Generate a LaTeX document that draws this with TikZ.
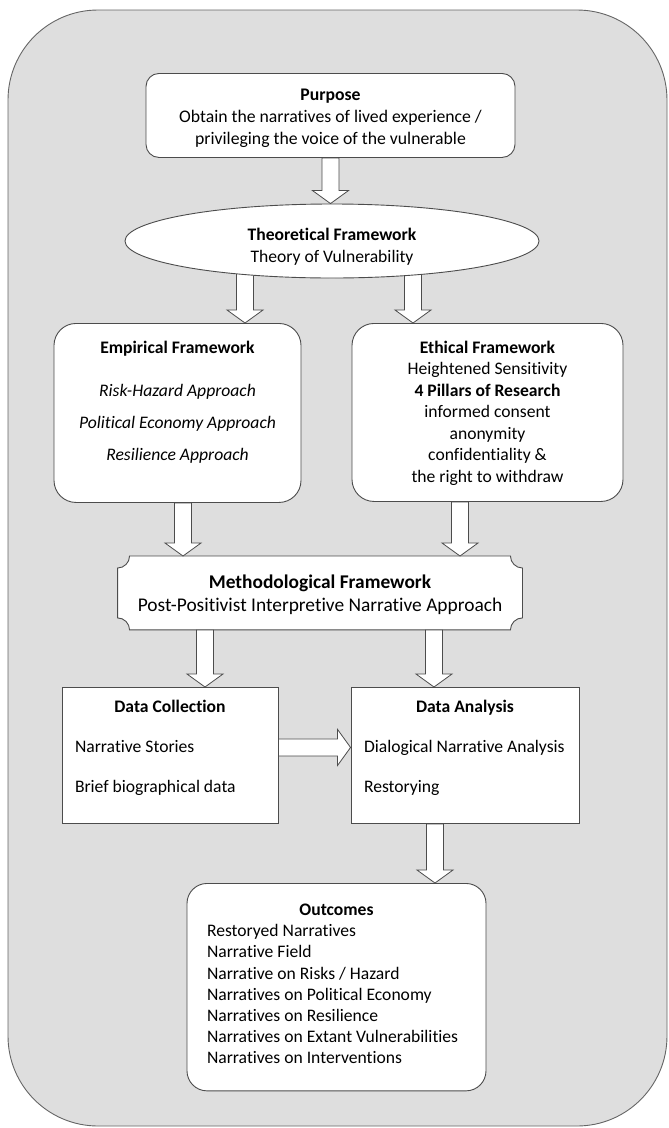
\documentclass[tikz,border=0pt]{standalone}
\usepackage{fontspec}
\setmainfont{Carlito}[Ligatures=NoCommon]
\usetikzlibrary{shapes.geometric, calc, backgrounds}

\newcommand{\topgap}[1]{\rule{0pt}{#1}}
\newcommand{\botgap}[1]{\rule[-#1]{0pt}{#1}}
\newcommand{\fatarrow}[2]{%
  \coordinate (fa-s) at #1;
  \coordinate (fa-e) at #2;
  \coordinate (fa-h) at ($(fa-e)!13pt!(fa-s)$);
  \draw[fat] ($(fa-s)!8.5pt!90:(fa-e)$) -- ($(fa-h)!8.5pt!90:(fa-e)$)
    -- ($(fa-h)!18pt!90:(fa-e)$) -- (fa-e)
    -- ($(fa-h)!18pt!-90:(fa-e)$) -- ($(fa-h)!8.5pt!-90:(fa-e)$)
    -- ($(fa-s)!8.5pt!-90:(fa-e)$) -- cycle;
}

\begin{document}
\begin{tikzpicture}[
  x=1pt, y=1pt,
  frame/.style={draw=black!60, fill=black!13, line width=0.9pt, rounded corners=90pt},
  box/.style={
    draw=black!70, fill=white, line width=0.9pt,
    inner xsep=6pt, inner ysep=0pt, anchor=north,
    font=\fontsize{17.6}{21.5}\selectfont, align=center
  },
  roundbox/.style={box, rounded corners=#1},
  roundbox/.default=13pt,
  listbox/.style={box, align=flush left, inner xsep=13pt},
  oval/.style={
    ellipse, draw=black!70, fill=white, line width=0.9pt, inner sep=0pt,
    minimum width=414pt, minimum height=74pt,
    font=\fontsize{17.6}{22}\selectfont, align=center
  },
  fat/.style={draw=black!70, fill=white, line width=0.8pt, line join=miter},
]
  \useasboundingbox (0,0) rectangle (669,-1128);

  \node[roundbox, minimum width=369pt, font=\fontsize{17.7}{22}\selectfont]
    (purpose) at (330.5,-73) {{\bfseries Purpose}\topgap{27pt}\\
      Obtain the narratives of lived experience /\\
      privileging the voice of the vulnerable\botgap{13pt}};

  \node[oval] (theory) at (332,-241)
    {{\bfseries Theoretical Framework}\topgap{24pt}\\Theory of Vulnerability};

  \node[roundbox=22pt, minimum width=247pt] (emp) at (177.5,-323)
    {{\bfseries Empirical Framework}\topgap{30pt}\\[21.5pt]
     \textit{Risk-Hazard Approach}\\[10.5pt]
     \textit{Political Economy Approach}\\[10.5pt]
     \textit{Resilience Approach}\botgap{42pt}};

  \node[roundbox=22pt, minimum width=271pt] (eth) at (487.5,-323)
    {{\bfseries Ethical Framework}\topgap{30pt}\\
     Heightened Sensitivity\\
     {\bfseries 4 Pillars of Research}\\
     informed consent\\
     anonymity\\
     confidentiality \&\\
     the right to withdraw\botgap{19pt}};

  \node[box, draw=none, fill=none, minimum width=404pt,
    font=\fontsize{19.4}{23}\selectfont] (meth) at (320,-556)
    {{\bfseries Methodological Framework}\topgap{32pt}\\
     Post-Positivist Interpretive Narrative Approach\botgap{18pt}};

  \node[listbox, text width=190pt] (dcol) at (170,-687)
    {\makebox[\linewidth]{\bfseries Data Collection\topgap{25pt}}\\[18.5pt]
     \mbox{Narrative Stories}\\[18.5pt]
     \mbox{Brief biographical data}\botgap{31pt}};

  \node[listbox, text width=202pt] (dana) at (465,-687)
    {\makebox[\linewidth]{\bfseries Data Analysis\topgap{25pt}}\\[18.5pt]
     \mbox{Dialogical Narrative Analysis}\\[18.5pt]
     \mbox{Restorying}\botgap{31pt}};

  \node[listbox, rounded corners=20pt, inner xsep=20pt, text width=259pt,
    font=\fontsize{17.6}{21.2}\selectfont] (outc) at (336.5,-883)
    {\makebox[\linewidth]{\bfseries Outcomes\topgap{32pt}}\\
     \mbox{Restoryed Narratives}\\
     \mbox{Narrative Field}\\
     \mbox{Narrative on Risks / Hazard}\\
     \mbox{Narratives on Political Economy}\\
     \mbox{Narratives on Resilience}\\
     \mbox{Narratives on Extant Vulnerabilities}\\
     \mbox{Narratives on Interventions}\botgap{27pt}};

  % entry points of the block arrows
  \coordinate (emp-in)  at ([xshift=67.5pt]emp.north);
  \coordinate (eth-in)  at ([xshift=-74.5pt]eth.north);
  \coordinate (emp-out) at ([xshift=5.5pt]emp.south);
  \coordinate (eth-out) at ([xshift=-27.5pt]eth.south);
  \coordinate (dcol-in) at ([xshift=35pt]dcol.north);
  \coordinate (dana-in) at ([xshift=-31pt]dana.north);
  \coordinate (dana-side) at ([yshift=8pt]dana.west);
  \coordinate (dana-out) at ([xshift=-30pt]dana.south);

  \begin{pgfonlayer}{background}
    \draw[frame] (8,-10) rectangle (667,-1126);
    % methodological box with notched corners
    \draw[draw=black!70, fill=white, line width=0.9pt]
      ([xshift=12pt]meth.north west) -- ([xshift=-12pt]meth.north east)
      arc[start angle=180, end angle=270, radius=12pt] -- ([yshift=12pt]meth.south east)
      arc[start angle=90, end angle=180, radius=12pt] -- ([xshift=12pt]meth.south west)
      arc[start angle=0, end angle=90, radius=12pt] -- ([yshift=-12pt]meth.north west)
      arc[start angle=270, end angle=360, radius=12pt] -- cycle;

    \fatarrow{(purpose.south)}{(purpose.south |- theory.north)}
    \foreach \a/\b in {theory.center -| emp-in/emp-in,
                       theory.center -| eth-in/eth-in,
                       emp-out/emp-out |- meth.north,
                       eth-out/eth-out |- meth.north,
                       meth.south -| dcol-in/dcol-in,
                       meth.south -| dana-in/dana-in,
                       dcol.east |- dana-side/dana-side,
                       dana-out/dana-out |- outc.north} {
      \fatarrow{(\a)}{(\b)}
    }
  \end{pgfonlayer}
\end{tikzpicture}
\end{document}
